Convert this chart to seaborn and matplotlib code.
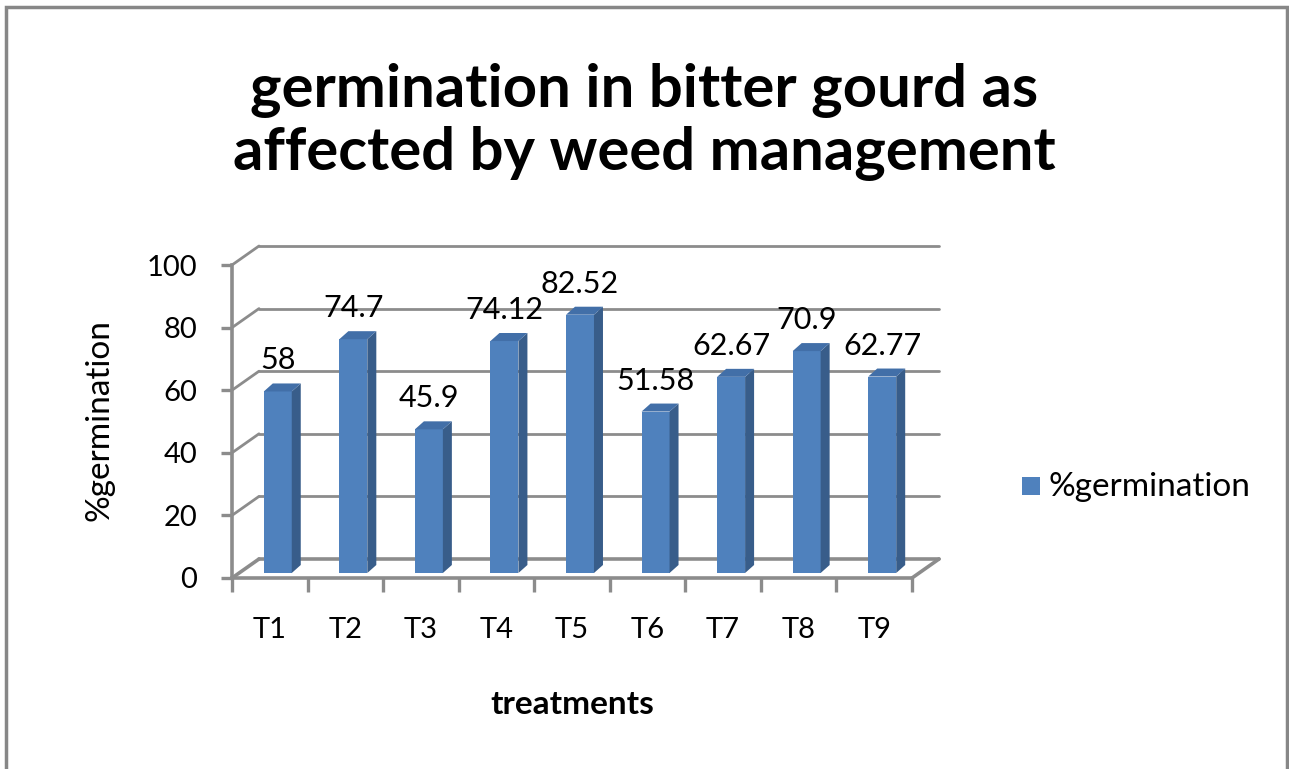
import matplotlib
matplotlib.use("Agg")
import matplotlib.pyplot as plt
import matplotlib.transforms as mtransforms
from matplotlib.patches import Polygon, Rectangle
import seaborn as sns
import pandas as pd

treatments = ["T1", "T2", "T3", "T4", "T5", "T6", "T7", "T8", "T9"]
germination = [58, 74.7, 45.9, 74.12, 82.52, 51.58, 62.67, 70.9, 62.77]
value_labels = ["58", "74.7", "45.9", "74.12", "82.52", "51.58", "62.67", "70.9", "62.77"]
y_ticks = [0, 20, 40, 60, 80, 100]

df = pd.DataFrame({"treatment": treatments, "germination": germination})

sns.set_style("white")
plt.rcParams["font.family"] = ["Lato", "DejaVu Sans"]
plt.rcParams["text.color"] = "black"
plt.rcParams["axes.labelcolor"] = "black"
plt.rcParams["xtick.labelcolor"] = "black"
plt.rcParams["ytick.labelcolor"] = "black"

DPI = 100
fig = plt.figure(figsize=(12.89, 7.69), dpi=DPI)
ax = fig.add_axes([232 / 1289, (769 - 578) / 769, 680 / 1289, 313 / 769])

front = "#4F81BD"
side = "#385D8A"
top = "#426FA8"
grid_c = "#8C8C8C"

sns.barplot(data=df, x="treatment", y="germination", ax=ax, color=front,
            saturation=1, width=0.37, zorder=3)
ax.set_xlim(-0.5, 8.5)
ax.set_ylim(0, 100)

# pixel -> data scale
px_x = 9 / 680
px_y = 100 / 313


def shift(dx, dy):
    return ax.transData + mtransforms.ScaledTranslation(dx / DPI, dy / DPI, fig.dpi_scale_trans)


# 3D wall: back gridlines, side wall diagonals, floor
back = shift(27, 19)
for t in y_ticks:
    lw = 2.6 if t == 0 else 2
    ax.plot([-0.5, 8.5], [t, t], color=grid_c, lw=lw, transform=back, zorder=1, clip_on=False)
    ax.plot([-0.5, -0.5 + 27 * px_x], [t, t + 19 * px_y], color=grid_c, lw=lw, zorder=1, clip_on=False)
ax.plot([8.5, 8.5 + 27 * px_x], [0, 19 * px_y], color=grid_c, lw=2.6, zorder=1, clip_on=False)

# bars: move into the depth, add side and top faces
bar_off = shift(8, 5)
ddx, ddy = 9 * px_x, 8 * px_y
for p in ax.patches:
    x, w, h = p.get_x(), p.get_width(), p.get_height()
    p.set_transform(bar_off)
    p.set_edgecolor("none")
    x1 = x + w
    ax.add_patch(Polygon([(x1, 0), (x1 + ddx, ddy), (x1 + ddx, h + ddy), (x1, h)],
                         closed=True, facecolor=side, edgecolor="none",
                         transform=bar_off, zorder=3, clip_on=False))
    ax.add_patch(Polygon([(x, h), (x1, h), (x1 + ddx, h + ddy), (x + ddx, h + ddy)],
                         closed=True, facecolor=top, edgecolor="none",
                         transform=bar_off, zorder=3, clip_on=False))

for i, (v, lab) in enumerate(zip(germination, value_labels)):
    ax.annotate(lab, (i, v), xytext=(8 * 0.72, 22 * 0.72), textcoords="offset points",
                ha="center", va="bottom", fontsize=22, zorder=5,
                annotation_clip=False)

# axes
for s in ["top", "right"]:
    ax.spines[s].set_visible(False)
for s in ["left", "bottom"]:
    ax.spines[s].set_color(grid_c)
    ax.spines[s].set_linewidth(2.6)
    ax.spines[s].set_zorder(2)

ax.set_yticks(y_ticks)
ax.tick_params(axis="y", direction="out", length=8, width=2.4, color=grid_c,
               labelsize=21, pad=17, left=True)
ax.set_xticks(range(len(treatments)))
ax.set_xticklabels(treatments)
ax.set_xticks([i - 0.5 for i in range(len(treatments) + 1)], minor=True)
ax.tick_params(axis="x", which="major", length=0, labelsize=21, pad=28)
ax.tick_params(axis="x", which="minor", direction="out", length=10, width=2.4,
               color=grid_c, bottom=True)

ax.set_xlabel("treatments", fontsize=24, fontweight="bold", va="center")
ax.xaxis.set_label_coords((572 - 232) / 680, (578 - 705) / 313)
ax.set_ylabel("%germination", fontsize=24, va="center")
ax.yaxis.set_label_coords((99 - 232) / 680, (578 - 420) / 313)

fig.text(0.5, 1 - 122 / 769, "germination in bitter gourd as\naffected by weed management",
         ha="center", va="center", fontsize=43, fontweight="bold", linespacing=1.18)

# legend
fig.patches.append(Rectangle((1022 / 1289, 1 - 495 / 769), 18 / 1289, 18 / 769,
                             transform=fig.transFigure, facecolor=front, edgecolor="none"))
fig.text(1049 / 1289, 1 - 487 / 769, "%germination", ha="left", va="center", fontsize=24)

# outer chart border
fig.patches.append(Rectangle((6 / 1289, -0.05), 1281 / 1289, 1.05 - 7 / 769,
                             transform=fig.transFigure, fill=False,
                             edgecolor="#878787", linewidth=2.5))

fig.savefig("out.png", dpi=DPI)
